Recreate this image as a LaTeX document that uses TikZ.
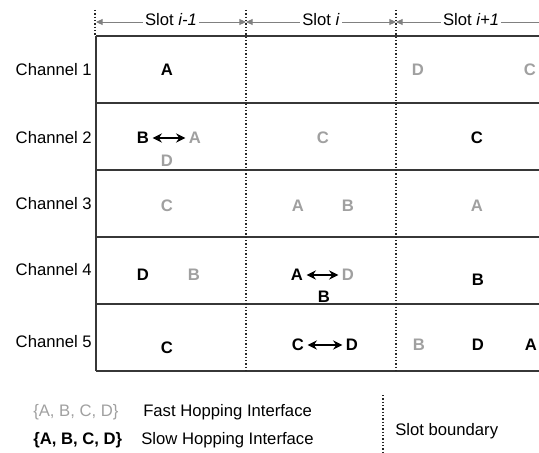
\documentclass[tikz,border=0pt]{standalone}
\usepackage{fontspec}
\setmainfont{Liberation Sans}
\usetikzlibrary{arrows.meta}

\definecolor{hopgray}{RGB}{160,160,160}
\definecolor{gridline}{RGB}{55,55,55}

\newcommand{\slotfont}{\fontsize{12.5}{15}\selectfont}

\tikzset{
  fast/.style={text=hopgray,font=\slotfont\bfseries,inner sep=1.5pt},
  slow/.style={text=black,font=\slotfont\bfseries,inner sep=1.5pt},
  chan/.style={anchor=east,inner sep=0pt},
  grid/.style={gridline,line width=1.3pt},
  bound/.style={black!85,line width=0.9pt,dash pattern=on 0.9pt off 1.6pt},
  span/.style={hopgray!80!black,line width=0.7pt},
  tip/.style={Triangle[length=5pt,width=4.5pt]},
  swap/.style={{Stealth[length=7pt,width=7pt]}-{Stealth[length=7pt,width=7pt]},line width=1.1pt,shorten <=1pt,shorten >=1pt},
}

\begin{document}
\begin{tikzpicture}[x=0.75pt,y=-0.75pt,font=\slotfont]
  \useasboundingbox (0,0) rectangle (539,453);

  % table
  \foreach \y in {36,103,170,237,304,371}
    \draw[grid] (96,\y) -- (539,\y);
  \draw[grid] (96,36) -- (96,371);
  \draw[bound] (95,10) -- (95,36);
  \draw[bound] (246,10) -- (246,371);
  \draw[bound] (396,10) -- (396,371);

  % slot spans
  \coordinate (s0) at (96,22);
  \coordinate (s1) at (246,22);
  \coordinate (s2) at (396,22);
  \coordinate (s3) at (539,22);
  \draw[span,{Triangle[length=5pt,width=4.5pt]}-{Triangle[length=5pt,width=4.5pt]}] (s0) -- node[fill=white,inner sep=1.5pt,yshift=1.5pt,text=black] {Slot \textit{i-1}} (s1);
  \draw[span,{Triangle[length=5pt,width=4.5pt]}-{Triangle[length=5pt,width=4.5pt]}] (s1) -- node[fill=white,inner sep=1.5pt,yshift=1.5pt,text=black] {Slot \textit{i}} (s2);
  \draw[span,{Triangle[length=5pt,width=4.5pt]}-] (s2) -- node[pos=0.525,fill=white,inner sep=1.5pt,yshift=1.5pt,text=black] {Slot \textit{i+1}} (s3);

  % channels
  \node[chan] (c1) at (92,70) {Channel 1};
  \node[chan] (c2) at (92,138) {Channel 2};
  \node[chan] (c3) at (92,204) {Channel 3};
  \node[chan] (c4) at (92,270) {Channel 4};
  \node[chan] (c5) at (92,342) {Channel 5};

  % channel 1
  \node[slow] (r1a) at (167,70) {A};
  \node[fast] (r1d) at (418,70) {D};
  \node[fast] (r1c) at (530,70) {C};

  % channel 2
  \node[slow] (r2b) at (143,138) {B};
  \node[fast] (r2a) at (195,138) {A};
  \node[fast] (r2d) at (167,161) {D};
  \node[fast] (r2c) at (323,138) {C};
  \node[slow] (r2cc) at (477,138) {C};
  \draw[swap] (r2b) -- (r2a);

  % channel 3
  \node[fast] (r3c) at (167,206) {C};
  \node[fast] (r3a) at (298,206) {A};
  \node[fast] (r3b) at (348,206) {B};
  \node[fast] (r3aa) at (477,206) {A};

  % channel 4
  \node[slow] (r4d) at (143,275) {D};
  \node[fast] (r4b) at (194,275) {B};
  \node[slow] (r4a) at (297,275) {A};
  \node[fast] (r4dd) at (348,275) {D};
  \node[slow] (r4bb) at (324,297) {B};
  \node[slow] (r4bbb) at (478,280) {B};
  \draw[swap] (r4a) -- (r4dd);

  % channel 5
  \node[slow] (r5c) at (167,348) {C};
  \node[slow] (r5cc) at (298,345) {C};
  \node[slow] (r5d) at (352,345) {D};
  \node[fast] (r5b) at (419,345) {B};
  \node[slow] (r5dd) at (478,345) {D};
  \node[slow] (r5a) at (531,345) {A};
  \draw[swap] (r5cc) -- (r5d);

  % legend
  \node[anchor=west,inner sep=0pt,text=hopgray] (kf) at (33,412) {\{A, B, C, D\}};
  \node[anchor=west,inner sep=0pt] (kft) at (143,412) {Fast Hopping Interface};
  \node[anchor=west,inner sep=0pt,font=\slotfont\bfseries] (ks) at (33,440) {\{A, B, C, D\}};
  \node[anchor=west,inner sep=0pt] (kst) at (141,440) {Slow Hopping Interface};
  \coordinate (kb0) at (383,395);
  \coordinate (kb1) at (383,453);
  \draw[bound] (kb0) -- (kb1);
  \node[anchor=west,inner sep=0pt] (kbt) at (395,431) {Slot boundary};
\end{tikzpicture}
\end{document}
